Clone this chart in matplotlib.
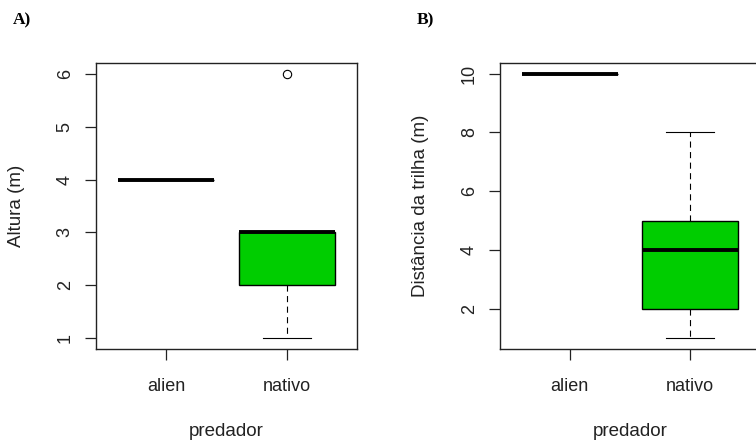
import matplotlib
matplotlib.use("Agg")
import matplotlib.pyplot as plt

# ---- data ----
groups = ["alien", "nativo"]

# Panel A: Altura (m)
altura_med = [4, 3]
altura_q1 = [4, 2]
altura_q3 = [4, 3]
altura_lo = [4, 1]
altura_hi = [4, 3]
altura_out = [[], [6]]

# Panel B: Distância da trilha (m)
dist_med = [10, 4]
dist_q1 = [10, 2]
dist_q3 = [10, 5]
dist_lo = [10, 1]
dist_hi = [10, 8]
dist_out = [[], []]

plt.rcParams['font.family'] = ['Liberation Sans', 'DejaVu Sans']

W, H = 756, 442
fig = plt.figure(figsize=(W / 100, H / 100), dpi=100)
GREEN = "#00CD00"


def px_axes(left, right, top, bottom):
    return fig.add_axes([left / W, (H - bottom) / H, (right - left) / W, (bottom - top) / H])


def draw(ax, med, q1, q3, lo, hi, out, ylim, yticks, ylabel, ylab_x):
    stats = []
    for i in range(len(groups)):
        stats.append(dict(med=med[i], q1=q1[i], q3=q3[i], whislo=lo[i], whishi=hi[i],
                          fliers=out[i], label=groups[i]))
    ax.bxp(stats, positions=[1, 2], widths=0.8, patch_artist=True, capwidths=0.4,
           boxprops=dict(facecolor=GREEN, edgecolor="black", linewidth=1.0),
           medianprops=dict(color="black", linewidth=2.8, solid_capstyle="butt"),
           whiskerprops=dict(color="black", linewidth=0.8, linestyle=(0, (5.5, 4))),
           capprops=dict(color="black", linewidth=0.8),
           flierprops=dict(marker="o", markerfacecolor="none", markeredgecolor="black",
                           markersize=6, markeredgewidth=0.8))
    ax.set_xlim(0.42, 2.58)
    ax.set_ylim(*ylim)
    ax.set_yticks(yticks)
    ax.set_xticks([1, 2])
    ax.set_xticklabels(groups)
    for s in ax.spines.values():
        s.set_linewidth(1.0)
        s.set_color("#222222")
    ax.tick_params(axis="both", direction="out", length=8, width=0.9, labelsize=13,
                   colors="#222222")
    ax.tick_params(axis="x", pad=13)
    ax.tick_params(axis="y", pad=8)
    for lab in ax.get_yticklabels():
        lab.set_rotation(90)
        lab.set_va("center")
    ax.set_xlabel("predador", fontsize=13.5, color="#222222")
    ax.xaxis.set_label_coords(0.5, -0.29)
    ax.xaxis.label.set_va("center")
    ax.set_ylabel(ylabel, fontsize=13.5, color="#222222")
    ax.yaxis.set_label_coords(ylab_x, 0.5)
    ax.yaxis.label.set_va("center")


axA = px_axes(96, 357, 63, 349)
draw(axA, altura_med, altura_q1, altura_q3, altura_lo, altura_hi, altura_out,
     (0.8, 6.2), [1, 2, 3, 4, 5, 6], "Altura (m)", -0.303)

axB = px_axes(500, 759.6, 63, 349)
draw(axB, dist_med, dist_q1, dist_q3, dist_lo, dist_hi, dist_out,
     (0.64, 10.36), [2, 4, 6, 8, 10], "Distância da trilha (m)", -0.308)

fig.text(21.7 / W, 1 - 20 / H, "A)", fontsize=12.5, fontweight="bold",
         family=["Liberation Serif", "DejaVu Serif"], ha="center", va="center")
fig.text(425.5 / W, 1 - 20 / H, "B)", fontsize=12.5, fontweight="bold",
         family=["Liberation Serif", "DejaVu Serif"], ha="center", va="center")

fig.savefig("out.png", dpi=100, facecolor="white")
